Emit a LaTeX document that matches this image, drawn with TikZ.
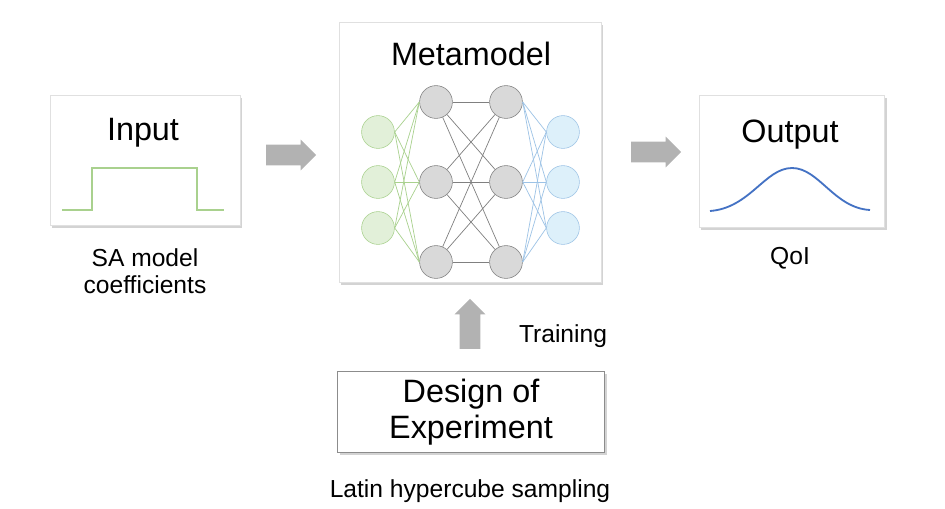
\documentclass[tikz,border=0pt]{standalone}
\usepackage{fontspec}
\setmainfont{Liberation Sans}
\usetikzlibrary{shapes.arrows, shadows, positioning}
\definecolor{stepgreen}{RGB}{169,209,142}
\definecolor{cellgreen}{RGB}{226,240,217}
\definecolor{cellgray}{RGB}{217,217,217}
\definecolor{linegray}{RGB}{128,128,128}
\definecolor{cellblue}{RGB}{221,240,250}
\definecolor{lineblue}{RGB}{157,195,230}
\definecolor{curveblue}{RGB}{68,114,196}
\tikzstyle{panel} = [rectangle, draw=black!12, fill=white, drop shadow={shadow xshift=1.5pt, shadow yshift=-2pt, opacity=0.35}]
\tikzstyle{doebox} = [rectangle, draw=black!45, fill=white, minimum width=6.675cm, minimum height=2.025cm, align=center, font=\fontsize{23}{26}\selectfont, drop shadow={shadow xshift=1.5pt, shadow yshift=-2pt, opacity=0.35}]
\tikzstyle{title} = [anchor=base, font=\fontsize{23}{27}\selectfont]
\tikzstyle{label} = [font=\fontsize{17.5}{19.5}\selectfont, align=center]
\tikzstyle{blockarrow} = [single arrow, fill=black!30, draw=none, inner sep=0.25cm, minimum height=1.25cm, single arrow head extend=0.13cm]
\tikzstyle{incell} = [circle, draw=stepgreen, fill=cellgreen, minimum size=0.82cm, inner sep=0pt]
\tikzstyle{hidcell} = [circle, draw=linegray, fill=cellgray, minimum size=0.82cm, inner sep=0pt]
\tikzstyle{outcell} = [circle, draw=lineblue, fill=cellblue, minimum size=0.82cm, inner sep=0pt]

\begin{document}
\begin{tikzpicture}[x=0.025cm, y=-0.025cm]
\useasboundingbox (0,0) rectangle (945,508);
% boxes
\node (inbox) [panel, minimum width=4.75cm, minimum height=3.25cm] at (145,160) {};
\node (metabox) [panel, minimum width=6.55cm, minimum height=6.5cm] at (470,152) {};
\node (outbox) [panel, minimum width=4.63cm, minimum height=3.3cm] at (792,161) {};
\node (doe) [doebox] at (471,412) {Design of\\Experiment};
\node (intitle) [title] at (143,140) {Input};
\node (metatitle) [title] at (471,65) {Metamodel};
\node (outtitle) [title] at (790,142) {Output};
% input signal and output curve
\draw [stepgreen, line width=1.3pt] (62,210) -- (92,210) -- (92,168) -- (197,168) -- (197,210) -- (224,210);
\draw [curveblue, line width=1.3pt] (710,211) .. controls (750,208) and (765,168) .. (792,168) .. controls (819,168) and (834,208) .. (870,210);
% network
\foreach \y [count=\i] in {132,182,228} {
  \node (i\i) [incell] at (378,\y) {};
  \node (o\i) [outcell] at (563,\y) {};
}
\foreach \y [count=\i] in {102,182,262} {
  \node (h\i) [hidcell] at (436,\y) {};
  \node (g\i) [hidcell] at (506,\y) {};
}
\foreach \a in {1,2,3} {
  \foreach \b in {1,2,3} {
    \draw [stepgreen, line width=0.5pt] (i\a.east) -- (h\b.west);
    \draw [linegray, line width=0.5pt] (h\a) -- (g\b);
    \draw [lineblue, line width=0.5pt] (g\a.east) -- (o\b.west);
  }
}
% block arrows
\node (arr1) [blockarrow] at (286,155) {};
\node (arr2) [blockarrow] at (651,152) {};
\node (arr3) [blockarrow, shape border rotate=90] at (470,329) {};
% labels
\node (sa) [label, below=0.45cm of inbox] {SA model\\coefficients};
\node (qoi) [label, anchor=base] at (790,264) {QoI};
\node (train) [label, anchor=base] at (563,342) {Training};
\node (lhs) [label, anchor=base] at (470,497) {Latin hypercube sampling};
\end{tikzpicture}
\end{document}
